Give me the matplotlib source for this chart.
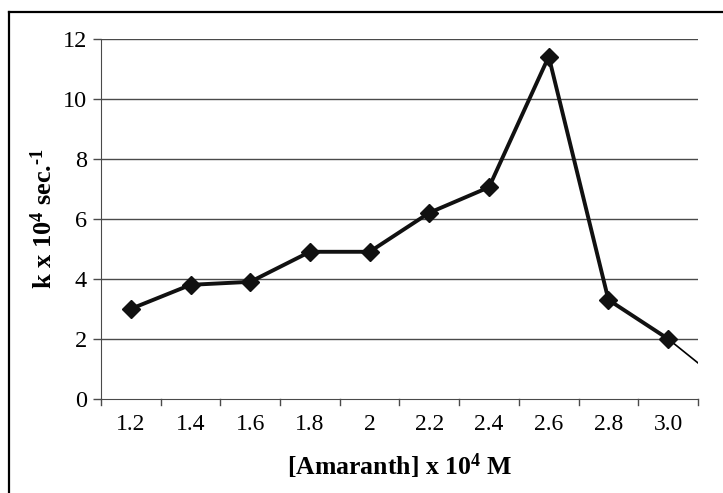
import matplotlib
matplotlib.use("Agg")
import matplotlib.pyplot as plt
from matplotlib.lines import Line2D

plt.rcParams['font.family'] = ['Liberation Serif', 'DejaVu Serif']
plt.rcParams['mathtext.fontset'] = 'custom'
plt.rcParams['mathtext.rm'] = 'Liberation Serif'
plt.rcParams['mathtext.bf'] = 'Liberation Serif:bold'
plt.rcParams['mathtext.it'] = 'Liberation Serif:italic'

categories = ["1.2", "1.4", "1.6", "1.8", "2", "2.2", "2.4", "2.6", "2.8", "3.0"]
k_values = [3.0, 3.8, 3.9, 4.9, 4.9, 6.2, 7.05, 11.4, 3.3, 2.0]
overflow_value = 0.4  # next point beyond the axis (clipped)
y_ticks = [0, 2, 4, 6, 8, 10, 12]

fig = plt.figure(figsize=(7.23, 4.93), dpi=100)
ax = fig.add_axes([0.1397, 0.1907, 0.9654 - 0.1397, 0.9219 - 0.1907])

x = list(range(len(categories)))
grid_c = '#4a4a4a'
for yt in y_ticks[1:]:
    ax.axhline(yt, color=grid_c, lw=1.0, zorder=1)

# thin segment running off the right edge
ax.plot([x[-1], x[-1] + 1], [k_values[-1], overflow_value], color='black', lw=1.2, zorder=2)
ax.plot(x, k_values, color='#111111', lw=2.8, marker='D', markersize=9,
        markerfacecolor='#111111', markeredgecolor='#111111', zorder=3)

ax.set_xlim(-0.5, len(categories) - 0.5)
ax.set_ylim(0, 12)
ax.set_yticks(y_ticks)
ax.set_yticklabels([str(v) for v in y_ticks], fontsize=17.5)
ax.set_xticks(x)
ax.set_xticklabels(categories, fontsize=17)
ax.tick_params(axis='x', length=0, pad=11)
ax.tick_params(axis='y', length=6, width=1, color=grid_c, pad=4)
# category boundary tick marks
for b in range(len(categories) + 1):
    ax.plot([b - 0.5, b - 0.5], [0, -0.2], color=grid_c, lw=1, clip_on=False,
            transform=ax.transData, zorder=1)

for s in ['top', 'right']:
    ax.spines[s].set_visible(False)
ax.spines['left'].set_color(grid_c)
ax.spines['bottom'].set_color(grid_c)

ax.set_xlabel(r'[Amaranth] x 10$^{\mathbf{4}}$ M', fontsize=18.5, fontweight='bold', labelpad=12)
ax.set_ylabel(r'k x 10$^{\mathbf{4}}$ sec.$^{\mathbf{‐1}}$', fontsize=19, fontweight='bold', labelpad=4)

# outer frame (top and left visible)
fig.add_artist(Line2D([9 / 723, 9 / 723], [0, 1 - 12 / 493], color='black', lw=1.6, transform=fig.transFigure))
fig.add_artist(Line2D([9 / 723, 1], [1 - 12 / 493, 1 - 12 / 493], color='black', lw=1.6, transform=fig.transFigure))

fig.savefig('out.png', dpi=100)
